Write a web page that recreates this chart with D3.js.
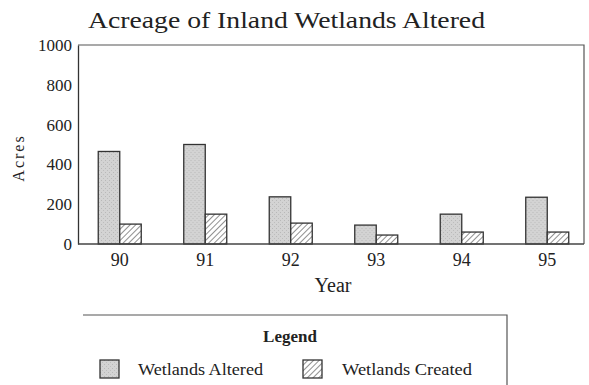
<!DOCTYPE html>
<html><head><meta charset="utf-8">
<script src="https://cdn.jsdelivr.net/npm/d3@7"></script>
<style>body{margin:0;background:#fff}svg{display:block}text{font-family:"Liberation Serif","DejaVu Serif",serif;fill:#222}</style>
</head><body>
<svg id="c" width="589" height="385"></svg>
<script>
const years = ["90","91","92","93","94","95"];
const seriesNames = ["Wetlands Altered","Wetlands Created"];
const altered = [465, 500, 237, 95, 150, 235];
const created = [100, 150, 105, 45, 60, 60];
const yTicks = [0, 200, 400, 600, 800, 1000];

(function(){
const svg = d3.select("#c");
const defs = svg.append("defs");
const st = defs.append("pattern").attr("id","stip").attr("patternUnits","userSpaceOnUse").attr("width",4).attr("height",4);
st.append("rect").attr("width",4).attr("height",4).attr("fill","#d3d3d3");
st.append("rect").attr("x",0).attr("y",0).attr("width",1).attr("height",1).attr("fill","#b8b8b8");
st.append("rect").attr("x",2).attr("y",2).attr("width",1).attr("height",1).attr("fill","#bdbdbd");
const ht = defs.append("pattern").attr("id","hatch").attr("patternUnits","userSpaceOnUse").attr("width",4).attr("height",4).attr("patternTransform","rotate(45)");
ht.append("rect").attr("width",4).attr("height",4).attr("fill","#fff");
ht.append("line").attr("x1",0).attr("y1",0).attr("x2",0).attr("y2",4).attr("stroke","#333").attr("stroke-width",1.1);

const pL = 78, pR = 584, pT = 45, pB = 244;
const x = d3.scaleBand().domain(years).range([77, 590]).padding(0);
const x1 = d3.scaleBand().domain(seriesNames).range([x.bandwidth()/2 - 21.5, x.bandwidth()/2 + 21.5]);
const y = d3.scaleLinear().domain([0, 1000]).range([pB, pT]);
const fills = {"Wetlands Altered":"url(#stip)","Wetlands Created":"url(#hatch)"};

svg.append("path").attr("d",`M${pL},${pT}H${pR}V${pB}`).attr("fill","none").attr("stroke","#555").attr("stroke-width",1.2);

const rows = years.map((yr,i)=>({yr, vals:[{k:seriesNames[0],v:altered[i]},{k:seriesNames[1],v:created[i]}]}));
const g = svg.append("g").selectAll("g").data(rows).join("g").attr("transform",d=>`translate(${x(d.yr)},0)`);
g.selectAll("rect").data(d=>d.vals).join("rect")
  .attr("x",d=>x1(d.k)).attr("width",x1.bandwidth())
  .attr("y",d=>y(d.v)).attr("height",d=>y(0)-y(d.v))
  .attr("fill",d=>fills[d.k]).attr("stroke","#333").attr("stroke-width",1.3);

const ya = svg.append("g").attr("transform",`translate(${pL},0)`)
  .call(d3.axisLeft(y).tickValues(yTicks).tickSize(0).tickPadding(6).tickFormat(d3.format("d")));
ya.select(".domain").attr("stroke","#333").attr("stroke-width",1.3);
ya.selectAll("text").style("font-size","17px").style("font-family","Liberation Serif").attr("fill","#222");

const xa = svg.append("g").attr("transform",`translate(0,${pB})`)
  .call(d3.axisBottom(x).tickSize(0).tickPadding(9));
xa.select(".domain").attr("d",`M${pL},0H${pR}`).attr("stroke","#444").attr("stroke-width",1.3);
xa.selectAll("text").style("font-size","18px").style("font-family","Liberation Serif").attr("fill","#222");

svg.append("text").attr("x",88).attr("y",28).attr("textLength",397).attr("lengthAdjust","spacingAndGlyphs")
  .style("font-size","24px").text("Acreage of Inland Wetlands Altered");
svg.append("text").attr("x",333).attr("y",292).attr("text-anchor","middle").style("font-size","20px").text("Year");
svg.append("text").attr("transform","translate(24,158) rotate(-90)").attr("text-anchor","middle")
  .style("font-size","16px").style("letter-spacing","2px").text("Acres");

svg.append("path").attr("d","M83,315H507V385").attr("fill","none").attr("stroke","#555").attr("stroke-width",1.2);
svg.append("text").attr("x",290).attr("y",342).attr("text-anchor","middle").style("font-size","17px").style("font-weight","bold").text("Legend");
const legItems = [{k:seriesNames[0], sx:100, tx:138, tw:125},{k:seriesNames[1], sx:303, tx:342, tw:130}];
legItems.forEach(it=>{
  svg.append("rect").attr("x",it.sx).attr("y",360).attr("width",19).attr("height",18).attr("fill",fills[it.k]).attr("stroke","#333").attr("stroke-width",1.3);
  svg.append("text").attr("x",it.tx).attr("y",375).attr("textLength",it.tw).attr("lengthAdjust","spacingAndGlyphs").style("font-size","16px").text(it.k);
});
})();
</script>
</body></html>
